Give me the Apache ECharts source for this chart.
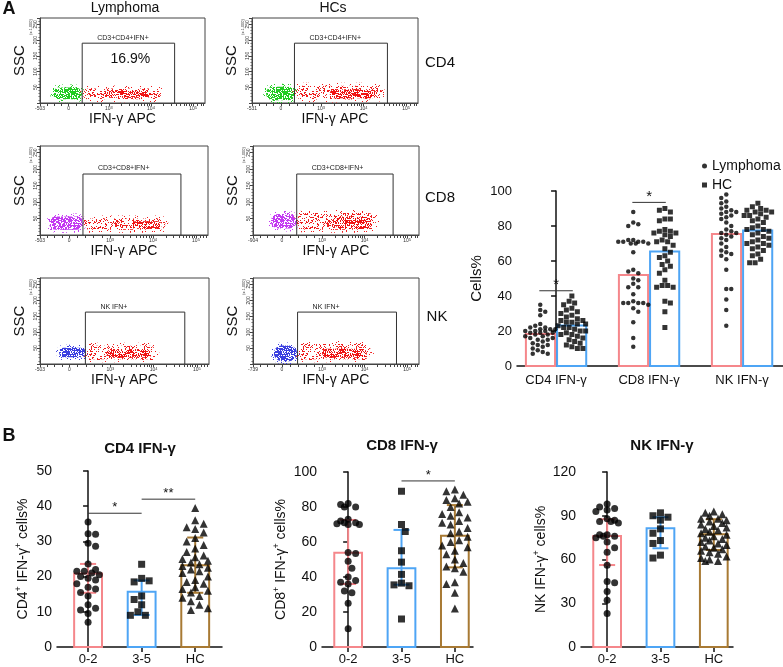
<!DOCTYPE html>
<html><head><meta charset="utf-8">
<script src="https://cdn.jsdelivr.net/npm/echarts@6/dist/echarts.min.js"></script>
<style>html,body{margin:0;padding:0;background:#fff}#c{width:783px;height:667px}</style>
</head><body><div id="c"></div>
<script>
// ---------------- DATA ----------------
// Panel A, right: bar means and individual values
const groupCats = ['CD4 IFN-γ', 'CD8 IFN-γ', 'NK IFN-γ'];
const lymphomaMeans = [18.3, 52, 75.5];
const hcMeans = [23.2, 65.5, 77.5];
const lymCD4 = [35, 32, 31, 29, 24, 23, 22, 22, 21, 21, 21, 20, 20, 20, 19, 19, 19, 18, 18, 17, 17, 16, 16, 15, 15, 14, 13, 12, 12, 11, 10, 9, 8, 7, 7];
const hcCD4 = [40, 37, 36, 35, 33, 32, 31, 30, 29, 28, 27, 26, 26, 25, 25, 24, 24, 23, 22, 22, 21, 20, 20, 19, 18, 18, 17, 16, 15, 14, 13, 12, 11, 10, 10];
const lymCD8 = [88, 82, 81, 80, 72, 72, 71, 71, 71, 71, 70, 70, 70, 65, 55, 54, 53, 50, 49, 47, 45, 45, 41, 37, 36, 36, 36, 36, 35, 33, 31, 25, 16, 11];
const hcCD8 = [90, 89, 88, 84, 84, 83, 78, 77, 77, 76, 76, 75, 74, 72, 71, 71, 69, 67, 65, 63, 62, 60, 58, 57, 55, 53, 49, 46, 46, 45, 45, 37, 36, 31, 22];
const lymNK = [98, 96, 94, 93, 91, 90, 89, 88, 88, 87, 86, 85, 84, 82, 80, 78, 77, 76, 76, 75, 74, 73, 72, 70, 68, 66, 65, 64, 63, 61, 55, 44, 44, 38, 32, 23];
const hcNK = [93, 91, 90, 89, 89, 88, 88, 87, 86, 86, 85, 84, 83, 82, 80, 79, 78, 78, 77, 76, 75, 74, 73, 72, 71, 70, 70, 69, 68, 67, 66, 64, 63, 61, 59, 59];
const aSig = [[0, 43, '*'], [1, 93.5, '*']]; // category, level, label

// Panel B
const bCats = ['0-2', '3-5', 'HC'];
const cd4G02 = [35.5, 32.2, 32, 29.5, 28.6, 23.6, 22, 21.5, 21.5, 21, 20.5, 20, 19.5, 19, 18, 17, 16.5, 15.5, 14.5, 12, 11, 10.5, 9.5, 7];
const cd4G35 = [23.5, 19.5, 18.8, 18.5, 14.5, 13.5, 12, 10, 9, 9];
const cd4GHC = [39.5, 36, 35, 34, 33.5, 32.5, 31, 30, 29, 28, 27, 26, 25.5, 25, 24.5, 24, 23.5, 23, 22.5, 22, 21.5, 21, 20, 19, 18.5, 18, 17, 16.5, 16, 15.5, 14.5, 14, 13, 12, 11, 10.5];
const cd4Means = [20.9, 15.7, 23.2], cd4Lo = [15.4, 9.1, 15.4], cd4Hi = [23.6, 18.9, 31.1];
const cd4Sig = [[0, 1, 38, '*'], [1, 2, 42, '**']];
const cd8G02 = [82, 81.5, 80, 80, 73, 72, 71, 71, 70.5, 70, 70, 54, 53.5, 49, 45, 40, 38, 37, 36, 32, 31, 25, 10.5];
const cd8G35 = [89, 70, 66, 55, 48.5, 41.5, 36.5, 35.5, 35, 16];
const cd8GHC = [90, 89, 87, 85, 84, 83, 82, 80, 77, 76, 75, 74, 72, 71, 70, 68, 66, 65, 63, 61, 60, 58, 57, 55, 53, 50, 48, 46, 45, 43, 37, 36, 31, 22];
const cd8Means = [53.9, 45, 63.6], cd8Lo = [36, 35.6, 45.5], cd8Hi = [72.6, 66.9, 81.1];
const cd8Sig = [[1, 2, 94.9, '*']];
const nkG02 = [98, 96, 95, 94, 93, 88, 87, 86, 86, 85, 77, 77, 76, 76, 75, 72, 68, 65, 56, 45, 44, 38, 32, 23];
const nkG35 = [92, 90, 89, 87, 81, 78, 73, 71, 63, 61];
const nkGHC = [93, 92, 91, 90, 88, 88, 87, 86, 85, 84, 83, 82, 81, 80, 79, 78, 77, 76, 75, 74, 73, 72, 71, 70, 69, 68, 67, 66, 65, 64, 62, 61, 60, 59, 59];
const nkMeans = [76.1, 81.4, 77.3], nkLo = [56.2, 67.7, 66.5], nkHi = [87.6, 89, 87.6];
const nkSig = [];

// Panel A, flow plots (x in display decades, y in SSC x1000)
const flowMinLabels = ['-503', '-531', '-503', '-904', '-503', '-739'];
const negCloud = [[1.68, 2.36, 12, 49], [1.70, 2.38, 9, 52], [1.58, 2.38, 16, 56], [1.79, 2.40, 20, 64], [1.81, 2.43, 21, 51], [1.86, 2.41, 9, 58]];
const posCloud = [[2.38, 4.24, 12, 46], [2.38, 4.43, 11, 55], [2.38, 4.29, 16, 50], [2.40, 4.27, 16, 67], [2.43, 4.06, 15, 57], [2.41, 4.15, 15, 63]];
const posCore = [[2.9, 4.0, 17, 38], [3.2, 4.3, 15, 44], [3.5, 4.2, 19, 42], [3.3, 4.15, 18, 56], [2.9, 3.95, 20, 44], [3.0, 4.05, 20, 48]];
const gateFrom = [2.37, 2.37, 2.37, 2.40, 2.42, 2.42];
const gateTo = [4.56, 4.56, 4.65, 4.67, 4.72, 4.75];
const gateTop = [190, 190, 185, 185, 163, 163];
const gateNames = ['CD3+CD4+IFN+', 'CD3+CD4+IFN+', 'CD3+CD8+IFN+', 'CD3+CD8+IFN+', 'NK IFN+', 'NK IFN+'];
const gatePct = ['16.9%', '', '', '', '', ''];

// ---------------- STYLE / LAYOUT ----------------
const FONT = "'Liberation Sans', Arial, sans-serif";
const PINK = '#f5878b', BLUE = '#4ea5f5', BROWN = '#a87a34';
const groupColors = [PINK, BLUE, BROWN];
const flowNegColors = ['#22cc22', '#c43af2', '#3b3fe0'];
const flowGrids = [
  {left: 40, top: 18, width: 165, height: 85},
  {left: 252, top: 18, width: 166, height: 85},
  {left: 40, top: 146, width: 168, height: 89},
  {left: 253, top: 146, width: 166, height: 89},
  {left: 40, top: 278, width: 169, height: 86},
  {left: 253, top: 278, width: 166, height: 86}
];
const FX = [1.37, 5.28], FY = [0, 270];
const GA = {left: 517, top: 191, width: 266, height: 175, xMin: -0.42, xMax: 2.44, yMax: 100, step: 20};
const GB = [
  {left: 57, top: 471, width: 165, height: 176, xMin: -0.58, xMax: 2.5, yMax: 50, step: 10},
  {left: 322, top: 472, width: 151, height: 175, xMin: -0.49, xMax: 2.34, yMax: 100, step: 20},
  {left: 581, top: 472, width: 152, height: 175, xMin: -0.49, xMax: 2.36, yMax: 120, step: 30}
];

// stipple textures (fixed hashed pixel pattern) for the flow clouds
function tile(color, pct, seed) {
  const n = 53, c = document.createElement('canvas');
  c.width = n; c.height = n;
  const g = c.getContext('2d'); g.fillStyle = color;
  for (let x = 0; x < n; x++) for (let y = 0; y < n; y++) {
    let h = Math.imul(x + seed, 374761393) + Math.imul(y, 668265263);
    h = Math.imul(h ^ (h >>> 13), 1274126177);
    h ^= h >>> 16;
    if (((h >>> 0) % 100) < pct) g.fillRect(x, y, 1, 1);
  }
  return c;
}
const negTiles = flowNegColors.map((c, i) => tile(c, 62, 3 + i));
const negHalo = flowNegColors.map((c, i) => tile(c, 12, 11 + i));
const redMain = tile('#f01c1c', 20, 5);
const redHalo = tile('#f01c1c', 6, 9);
const redCore = tile('#f01010', 42, 7);

// beeswarm layout (pixel space) -> data coordinates
function swarm(vals, cx, pxY, pxX, d, maxPx) {
  const order = vals.map((v, i) => i).sort((a, b) => vals[b] - vals[a]);
  const placed = [], out = new Array(vals.length), step = d / 2;
  const nSteps = Math.floor(maxPx / step);
  order.forEach((i, n) => {
    const y = vals[i] * pxY;
    const sgn = n % 2 ? -1 : 1;
    let chosen = null, best = -1, bestOff = 0;
    for (let k = 0; k <= nSteps * 2; k++) {
      const off = k === 0 ? 0 : ((k % 2) ? sgn : -sgn) * Math.ceil(k / 2) * step;
      let minD = Infinity;
      for (const q of placed) { const dd = Math.hypot(off - q[0], y - q[1]); if (dd < minD) minD = dd; }
      if (minD >= d) { chosen = off; break; }
      if (minD > best) { best = minD; bestOff = off; }
    }
    if (chosen === null) chosen = bestOff;
    placed.push([chosen, y]);
    out[i] = [cx + chosen / pxX, vals[i]];
  });
  return out;
}

// ---------------- BUILD ----------------
const grid = [], xAxis = [], yAxis = [], series = [], graphic = [];
const axisBlack = {show: true, lineStyle: {color: '#111', width: 1.5}};

function txt(x, y, text, font, align, rot, fill) {
  graphic.push({type: 'text', x: x, y: y, rotation: rot || 0, silent: true,
    style: {text: text, font: font, fill: fill || '#111', align: align || 'center', verticalAlign: 'middle',
            textAlign: align || 'center', textVerticalAlign: 'middle'}});
}

// flow plot ticks
const flowTickVals = [];
[1.37, 1.54, 1.71, 1.88, 2.05, 2.24, 2.43, 2.62, 2.81].forEach(v => flowTickVals.push(v));
[3, 4].forEach(dcd => { for (let k = 1; k <= 9; k++) flowTickVals.push(dcd + Math.log10(k)); });
flowTickVals.push(5, 5.1, 5.18, 5.24);
const flowLabelVals = [1.37, 2.05, 3, 4, 5];

function pill(a, b, pad, img) {
  const x = a[0] - pad, y = a[1] - pad, w = b[0] - a[0] + 2 * pad, h = b[1] - a[1] + 2 * pad;
  return {type: 'rect', shape: {x: x, y: y, width: w, height: h, r: h / 2}, style: {fill: {image: img, repeat: 'repeat'}}};
}

flowGrids.forEach((g, i) => {
  const row = Math.floor(i / 2);
  grid.push({left: g.left, top: g.top, width: g.width, height: g.height, show: true, borderColor: '#444', borderWidth: 1, backgroundColor: 'transparent'});
  xAxis.push({gridIndex: i, type: 'value', min: FX[0], max: FX[1],
    name: 'IFN-γ APC', nameLocation: 'middle', nameGap: 9,
    nameTextStyle: {fontSize: 14, color: '#111', fontFamily: FONT},
    axisLine: {show: true, lineStyle: {color: '#444', width: 1}},
    splitLine: {show: false},
    axisTick: {show: true, customValues: flowTickVals, length: 3, lineStyle: {color: '#444', width: 1}},
    axisLabel: {customValues: flowLabelVals, fontSize: 5, margin: 3, color: '#333', fontFamily: FONT,
      formatter: v => {
        const j = flowLabelVals.indexOf(v);
        return j === 0 ? flowMinLabels[i] : j === 1 ? '0' : j === 2 ? '10{s|3}' : j === 3 ? '10{s|4}' : j === 4 ? '10{s|5}' : '';
      },
      rich: {s: {fontSize: 4, verticalAlign: 'top'}}}
  });
  yAxis.push({gridIndex: i, type: 'value', min: FY[0], max: FY[1], interval: 50,
    name: 'SSC', nameLocation: 'middle', nameGap: 13,
    nameTextStyle: {fontSize: 15, color: '#111', fontFamily: FONT},
    axisLine: {show: true, lineStyle: {color: '#444', width: 1}},
    splitLine: {show: false},
    axisTick: {show: true, length: 3, lineStyle: {color: '#444'}},
    minorTick: {show: true, splitNumber: 5, length: 1.5, lineStyle: {color: '#666'}},
    axisLabel: {rotate: 90, fontSize: 5, margin: 2, color: '#333', fontFamily: FONT,
      formatter: v => (v > 0 && v % 50 === 0) ? String(v) : ''}
  });
  txt(g.left - 9, g.top + 9, '(x 1,000)', '4px ' + FONT, 'center', Math.PI / 2, '#333');

  const cloudData = [negCloud[i].concat([0]), posCloud[i].concat([1]), posCore[i].concat([2])];
  series.push({type: 'custom', xAxisIndex: i, yAxisIndex: i, silent: true, data: cloudData, clip: true,
    renderItem: (p, api) => {
      const a = api.coord([api.value(0), api.value(3)]), b = api.coord([api.value(1), api.value(2)]);
      const t = api.value(4);
      if (t === 0) return {type: 'group', children: [pill(a, b, 3, negHalo[row]), pill(a, b, 0, negTiles[row])]};
      if (t === 1) return {type: 'group', children: [pill(a, b, 3, redHalo), pill(a, b, 0, redMain)]};
      return {type: 'group', children: [pill(a, b, 0, redCore)]};
    }});
  series.push({type: 'custom', xAxisIndex: i, yAxisIndex: i, silent: true,
    data: [[gateFrom[i], gateTo[i], gateTop[i]]],
    renderItem: (p, api) => {
      const a = api.coord([api.value(0), api.value(2)]), b = api.coord([api.value(1), 0]);
      const kids = [
        {type: 'polyline', shape: {points: [[a[0], b[1]], [a[0], a[1]], [b[0], a[1]], [b[0], b[1]]]},
          style: {stroke: '#333', lineWidth: 1, fill: null}},
        {type: 'text', style: {x: a[0] + 15, y: a[1] - 2, text: gateNames[i], font: '7px ' + FONT, fill: '#222',
          align: 'left', verticalAlign: 'bottom', textAlign: 'left', textVerticalAlign: 'bottom'}}
      ];
      if (gatePct[i]) kids.push({type: 'text', style: {x: (a[0] + b[0]) / 2 + 2, y: a[1] + 16, text: gatePct[i],
        font: '14px ' + FONT, fill: '#111', align: 'center', verticalAlign: 'middle', textAlign: 'center', textVerticalAlign: 'middle'}});
      return {type: 'group', children: kids};
    }});
});

// ---- Panel A right chart (grid 6)
const gi = 6;
grid.push({left: GA.left, top: GA.top, width: GA.width, height: GA.height});
xAxis.push({gridIndex: gi, type: 'value', min: GA.xMin, max: GA.xMax,
  axisLine: axisBlack, splitLine: {show: false}, axisTick: {show: false},
  axisLabel: {customValues: [0, 1, 2], formatter: v => groupCats[v], fontSize: 13, color: '#111', margin: 8, fontFamily: FONT}});
yAxis.push({gridIndex: gi, type: 'value', min: 0, max: GA.yMax, interval: GA.step,
  name: 'Cells%', nameLocation: 'middle', nameGap: 33, nameTextStyle: {fontSize: 15, color: '#111', fontFamily: FONT},
  axisLine: axisBlack, splitLine: {show: false},
  axisTick: {show: true, length: 5, lineStyle: {color: '#111', width: 1.5}},
  axisLabel: {fontSize: 13, color: '#111', margin: 5, fontFamily: FONT}});
const aPxY = GA.height / GA.yMax, aPxX = GA.width / (GA.xMax - GA.xMin);
const lymAll = [lymCD4, lymCD8, lymNK], hcAll = [hcCD4, hcCD8, hcNK];
series.push({type: 'custom', xAxisIndex: gi, yAxisIndex: gi, silent: true, z: 1,
  data: lymphomaMeans.map((v, i) => [i, v, 0]).concat(hcMeans.map((v, i) => [i, v, 1])),
  renderItem: (p, api) => {
    const c = api.value(0), v = api.value(1), s = api.value(2);
    const x0 = s ? c : c - 0.335, x1 = s ? c + 0.335 : c;
    const a = api.coord([x0, v]), b = api.coord([x1, 0]);
    return {type: 'rect', shape: {x: a[0] + 1, y: a[1], width: b[0] - a[0] - 2, height: b[1] - a[1]},
      style: {fill: null, stroke: s ? BLUE : PINK, lineWidth: 2}};
  }});
let lymPts = [], hcPts = [];
lymAll.forEach((vals, i) => { lymPts = lymPts.concat(swarm(vals, i - 0.17, aPxY, aPxX, 5, 15)); });
hcAll.forEach((vals, i) => { hcPts = hcPts.concat(swarm(vals, i + 0.17, aPxY, aPxX, 5.5, 15)); });
series.push({name: 'Lymphoma', type: 'scatter', xAxisIndex: gi, yAxisIndex: gi, symbol: 'circle', symbolSize: 4.5,
  itemStyle: {color: '#000'}, data: lymPts, z: 3, silent: true});
series.push({name: 'HC', type: 'scatter', xAxisIndex: gi, yAxisIndex: gi, symbol: 'rect', symbolSize: 5,
  itemStyle: {color: '#000'}, data: hcPts, z: 3, silent: true});
series.push({type: 'custom', xAxisIndex: gi, yAxisIndex: gi, silent: true, z: 4, data: aSig,
  renderItem: (p, api) => {
    const c = api.value(0), lv = api.value(1);
    const a = api.coord([c - 0.18, lv]), b = api.coord([c + 0.18, lv]);
    return {type: 'group', children: [
      {type: 'line', shape: {x1: a[0], y1: a[1], x2: b[0], y2: b[1]}, style: {stroke: '#333', lineWidth: 1}},
      {type: 'text', style: {x: (a[0] + b[0]) / 2, y: a[1] + 2, text: aSig[p.dataIndex][2], font: '15px ' + FONT, fill: '#111',
        align: 'center', verticalAlign: 'bottom', textAlign: 'center', textVerticalAlign: 'bottom'}}]};
  }});

// ---- Panel B charts (grids 7..9)
const bSets = [
  {groups: [cd4G02, cd4G35, cd4GHC], means: cd4Means, lo: cd4Lo, hi: cd4Hi, sig: cd4Sig,
   name: '{n|CD4}{s|+}{n| IFN-γ}{s|+}{n| cells%}', gap: 25},
  {groups: [cd8G02, cd8G35, cd8GHC], means: cd8Means, lo: cd8Lo, hi: cd8Hi, sig: cd8Sig,
   name: '{n|CD8}{s|+}{n| IFN-γ}{s|+}{n| cells%}', gap: 32},
  {groups: [nkG02, nkG35, nkGHC], means: nkMeans, lo: nkLo, hi: nkHi, sig: nkSig,
   name: '{n|NK IFN-γ}{s|+}{n| cells%}', gap: 31}
];
const bSymbols = ['circle', 'rect', 'triangle'], bSizes = [7, 7, 8];
bSets.forEach((set, k) => {
  const g = GB[k], idx = 7 + k;
  grid.push({left: g.left, top: g.top, width: g.width, height: g.height});
  xAxis.push({gridIndex: idx, type: 'value', min: g.xMin, max: g.xMax,
    axisLine: axisBlack, splitLine: {show: false},
    axisTick: {show: true, customValues: [0, 1, 2], length: 5, lineStyle: {color: '#111', width: 1.5}},
    axisLabel: {customValues: [0, 1, 2], formatter: v => bCats[v], fontSize: 13, color: '#111', margin: 6, fontFamily: FONT}});
  yAxis.push({gridIndex: idx, type: 'value', min: 0, max: g.yMax, interval: g.step,
    name: set.name, nameLocation: 'middle', nameGap: set.gap,
    nameTextStyle: {color: '#111', fontFamily: FONT,
      rich: {n: {fontSize: 14, fontFamily: FONT, color: '#111', lineHeight: 18}, s: {fontSize: 9, fontFamily: FONT, color: '#111', lineHeight: 18, verticalAlign: 'top'}}},
    axisLine: axisBlack, splitLine: {show: false},
    axisTick: {show: true, length: 5, lineStyle: {color: '#111', width: 1.5}},
    axisLabel: {fontSize: 14, color: '#111', margin: 5, fontFamily: FONT}});
  const pxY = g.height / g.yMax, pxX = g.width / (g.xMax - g.xMin);
  series.push({type: 'custom', xAxisIndex: idx, yAxisIndex: idx, silent: true, z: 1,
    data: set.means.map((m, i) => [i, m, set.lo[i], set.hi[i]]),
    renderItem: (p, api) => {
      const c = api.value(0), m = api.value(1), lo = api.value(2), hi = api.value(3);
      const col = groupColors[c];
      const a = api.coord([c - 0.26, m]), b = api.coord([c + 0.26, 0]);
      const pl = api.coord([c, lo]), ph = api.coord([c, hi]);
      const cw = 0.15 * pxX;
      return {type: 'group', children: [
        {type: 'rect', shape: {x: a[0], y: a[1], width: b[0] - a[0], height: b[1] - a[1]}, style: {fill: null, stroke: col, lineWidth: 2}},
        {type: 'line', shape: {x1: pl[0], y1: pl[1], x2: ph[0], y2: ph[1]}, style: {stroke: col, lineWidth: 2}},
        {type: 'line', shape: {x1: pl[0] - cw, y1: pl[1], x2: pl[0] + cw, y2: pl[1]}, style: {stroke: col, lineWidth: 2}},
        {type: 'line', shape: {x1: ph[0] - cw, y1: ph[1], x2: ph[0] + cw, y2: ph[1]}, style: {stroke: col, lineWidth: 2}}
      ]};
    }});
  set.groups.forEach((vals, i) => {
    series.push({type: 'scatter', xAxisIndex: idx, yAxisIndex: idx, symbol: bSymbols[i], symbolSize: bSizes[i],
      itemStyle: {color: '#000'}, z: 3, silent: true,
      data: swarm(vals, i, pxY, pxX, bSizes[i] + 0.5, 14)});
  });
  if (set.sig.length) series.push({type: 'custom', xAxisIndex: idx, yAxisIndex: idx, silent: true, z: 4, data: set.sig,
    renderItem: (p, api) => {
      const a = api.coord([api.value(0), api.value(2)]), b = api.coord([api.value(1), api.value(2)]);
      return {type: 'group', children: [
        {type: 'line', shape: {x1: a[0], y1: a[1], x2: b[0], y2: b[1]}, style: {stroke: '#333', lineWidth: 1}},
        {type: 'text', style: {x: (a[0] + b[0]) / 2, y: a[1] + 1, text: set.sig[p.dataIndex][3], font: '13px ' + FONT, fill: '#111',
          align: 'center', verticalAlign: 'bottom', textAlign: 'center', textVerticalAlign: 'bottom'}}]};
    }});
});

// free text
txt(9, 9, 'A', 'bold 18px ' + FONT, 'center');
txt(125, 8, 'Lymphoma', '14px ' + FONT);
txt(333, 8, 'HCs', '14px ' + FONT);
txt(440, 63, 'CD4', '15px ' + FONT);
txt(440, 198, 'CD8', '15px ' + FONT);
txt(437, 317, 'NK', '15px ' + FONT);
txt(9, 436, 'B', 'bold 18px ' + FONT, 'center');
txt(140, 449, 'CD4 IFN-γ', 'bold 15px ' + FONT);
txt(402, 446, 'CD8 IFN-γ', 'bold 15px ' + FONT);
txt(662, 446, 'NK IFN-γ', 'bold 15px ' + FONT);

const chart = echarts.init(document.getElementById('c'));
chart.setOption({
  animation: false,
  backgroundColor: '#fff',
  textStyle: {fontFamily: FONT},
  legend: {data: [{name: 'Lymphoma', icon: 'circle'}, {name: 'HC', icon: 'rect'}],
    orient: 'vertical', left: 697, top: 154, itemWidth: 5, itemHeight: 5, itemGap: 5, selectedMode: false,
    textStyle: {fontSize: 14, color: '#111', fontFamily: FONT}},
  grid: grid, xAxis: xAxis, yAxis: yAxis, series: series, graphic: graphic
});
</script></body></html>
